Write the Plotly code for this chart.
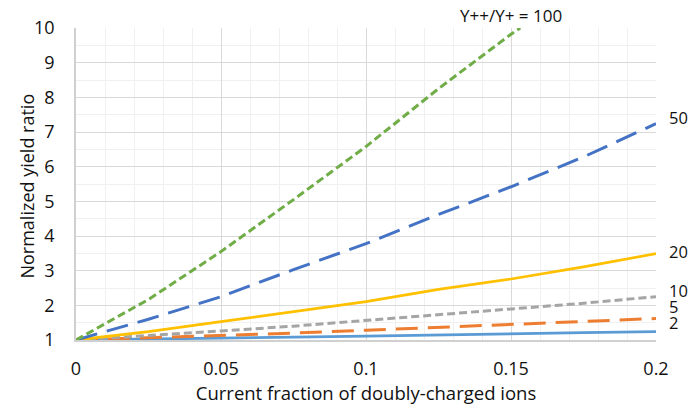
import plotly.graph_objects as go

# Data
x_vals = [0, 0.025, 0.05, 0.075, 0.1, 0.125, 0.15, 0.175, 0.2]
y_r2 = [1, 1.02, 1.05, 1.08, 1.11, 1.15, 1.18, 1.21, 1.245]
y_r5 = [1, 1.06, 1.13, 1.20, 1.28, 1.37, 1.44, 1.53, 1.62]
y_r10 = [1, 1.12, 1.26, 1.40, 1.56, 1.73, 1.89, 2.06, 2.25]
y_r20 = [1, 1.24, 1.53, 1.81, 2.11, 2.46, 2.76, 3.11, 3.49]
y_r50 = [1, 1.60, 2.25, 3.03, 3.78, 4.62, 5.42, 6.28, 7.24]
x_r100 = [0, 0.025, 0.05, 0.075, 0.1, 0.125, 0.15, 0.1532]
y_r100 = [1, 2.17, 3.55, 5.05, 6.58, 8.25, 9.82, 10.0]

series_names = ["2", "5", "10", "20", "50", "100"]
label_texts = ["2", "5", "10", "20", "50"]
label_y = [1.51, 1.96, 2.44, 3.56, 7.43]
top_label = "Y++/Y+ = 100"
top_label_x = 0.15

x_ticks = [0, 0.05, 0.1, 0.15, 0.2]
x_ticktext = ["0", "0.05", "0.1", "0.15", "0.2"]
y_ticks = [1, 2, 3, 4, 5, 6, 7, 8, 9, 10]

x_title = "Current fraction of doubly-charged ions"
y_title = "Normalized yield ratio"

FONT = "Open Sans"
TXT = "#111111"

fig = go.Figure()

styles = [
    (x_vals, y_r2, "#5B9BD5", "solid", 2.75),
    (x_vals, y_r5, "#ED7D31", "22px,10px", 3),
    (x_vals, y_r10, "#A5A5A5", "8px,4px", 3),
    (x_vals, y_r20, "#FFC000", "solid", 2.75),
    (x_vals, y_r50, "#4472C4", "22px,10px", 3),
    (x_r100, y_r100, "#70AD47", "8px,4px", 3),
]

for (xs, ys, color, dash, width), name in zip(styles, series_names):
    fig.add_trace(go.Scatter(
        x=xs, y=ys, mode="lines", name=name,
        line=dict(color=color, dash=dash, width=width),
        showlegend=False, hoverinfo="skip",
    ))

# Right-side labels
for txt, yv in zip(label_texts, label_y):
    fig.add_annotation(x=0.2, y=yv, xref="x", yref="y", text=txt,
                       showarrow=False, xanchor="left", yanchor="middle",
                       xshift=11, height=15, valign="middle",
                       font=dict(family=FONT, size=16.5, color=TXT))
fig.add_annotation(x=top_label_x, y=1.0385, xref="x", yref="paper", text=top_label,
                   showarrow=False, xanchor="center", yanchor="middle",
                   font=dict(family=FONT, size=17, color=TXT))

# Y axis title
fig.add_annotation(x=-0.0845, y=0.495, xref="paper", yref="paper", text=y_title,
                   textangle=-90, showarrow=False, xanchor="center", yanchor="middle",
                   font=dict(family=FONT, size=18, color=TXT))

fig.update_layout(
    width=688, height=408,
    margin=dict(l=76, r=32, t=28, b=68),
    paper_bgcolor="white", plot_bgcolor="white",
    font=dict(family=FONT, size=18, color=TXT),
)

fig.update_xaxes(
    range=[0, 0.2], tickvals=x_ticks, ticktext=x_ticktext, automargin=False,
    showgrid=True, gridcolor="#D9D9D9", gridwidth=1,
    minor=dict(dtick=0.01, showgrid=True, gridcolor="#F0F0F0", gridwidth=1),
    showline=True, linecolor="#D0D0D0", linewidth=1.5,
    zeroline=False, ticks="", ticklabelstandoff=12,
    tickfont=dict(family=FONT, size=18, color=TXT),
    title=dict(text=x_title, standoff=7,
               font=dict(family=FONT, size=18.5, color=TXT)),
)
fig.update_yaxes(
    range=[1, 10], tickvals=y_ticks, automargin=False,
    showgrid=True, gridcolor="#D9D9D9", gridwidth=1,
    minor=dict(dtick=0.5, showgrid=True, gridcolor="#F0F0F0", gridwidth=1),
    showline=True, linecolor="#D0D0D0", linewidth=1.5,
    zeroline=False, ticks="", ticklabelstandoff=16,
    tickfont=dict(family=FONT, size=18, color=TXT),
)

fig.write_html("out.html", config={"displayModeBar": False},
               post_script="document.body.style.margin='0';")
